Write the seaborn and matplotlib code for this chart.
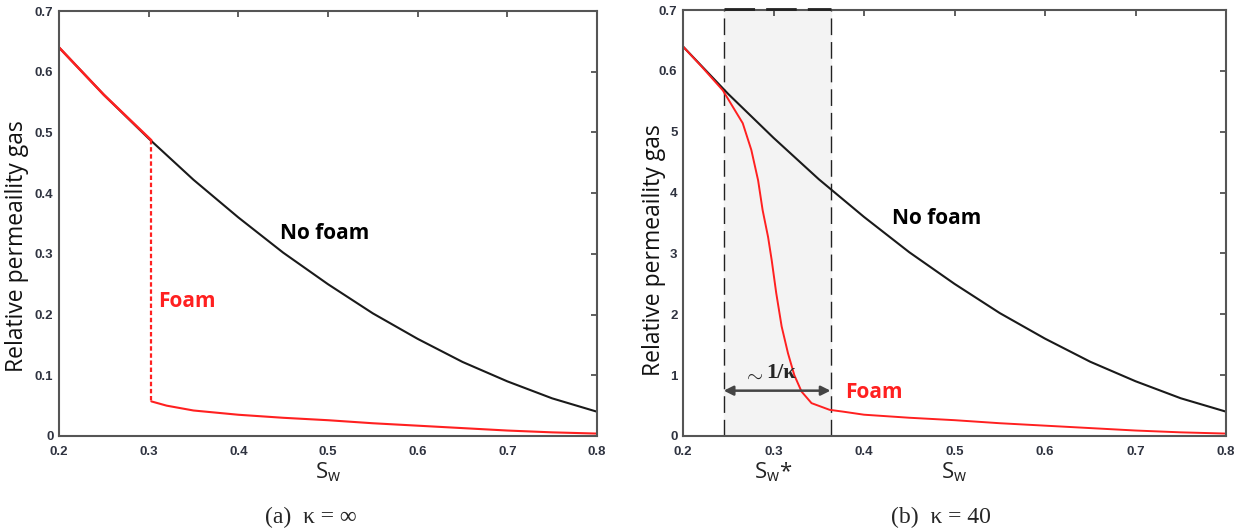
import numpy as np
import matplotlib
matplotlib.use("Agg")
import matplotlib.pyplot as plt
import seaborn as sns

# --- Data ---
# No-foam gas relative permeability (black)
sw_nofoam = [0.20, 0.25, 0.30, 0.35, 0.40, 0.45, 0.50, 0.55, 0.60, 0.65, 0.70, 0.75, 0.80]
krg_nofoam = [0.64, 0.562, 0.49, 0.422, 0.36, 0.302, 0.25, 0.202, 0.16, 0.122, 0.09, 0.062, 0.04]

# (a) kappa = inf : foam curve, upper part follows no-foam, jump at Sw*
sw_foam_a_upper = [0.20, 0.25, 0.303]
krg_foam_a_upper = [0.64, 0.562, 0.487]
sw_jump = [0.303, 0.303]
krg_jump = [0.487, 0.057]
sw_foam_lower = [0.303, 0.32, 0.35, 0.40, 0.45, 0.50, 0.55, 0.60, 0.65, 0.70, 0.75, 0.80]
krg_foam_lower = [0.057, 0.05, 0.042, 0.035, 0.030, 0.026, 0.021, 0.017, 0.013, 0.009, 0.006, 0.004]

# (b) kappa = 40 : smooth transition
sw_foam_b = [0.20, 0.22, 0.244, 0.255, 0.266, 0.2755, 0.283, 0.288, 0.294, 0.298, 0.303,
             0.309, 0.316, 0.323, 0.331, 0.342, 0.362, 0.377, 0.40, 0.45, 0.50, 0.55,
             0.60, 0.65, 0.70, 0.75, 0.80]
krg_foam_b = [0.64, 0.608, 0.568, 0.541, 0.514, 0.47, 0.42, 0.371, 0.327, 0.289, 0.235,
              0.18, 0.136, 0.10, 0.073, 0.054, 0.043, 0.040, 0.035, 0.030, 0.026, 0.021,
              0.017, 0.013, 0.009, 0.006, 0.004]

sw_star_lo, sw_star_hi = 0.245, 0.363

x_ticks = [0.2, 0.3, 0.4, 0.5, 0.6, 0.7, 0.8]
x_ticklabels = ["0.2", "0.3", "0.4", "0.5", "0.6", "0.7", "0.8"]
y_ticks = [0, 0.1, 0.2, 0.3, 0.4, 0.5, 0.6, 0.7]
y_ticklabels_a = ["0", "0.1", "0.2", "0.3", "0.4", "0.5", "0.6", "0.7"]
y_ticklabels_b = ["0", "1", "2", "3", "4", "5", "0.6", "0.7"]

sns.set_theme(style="white")
plt.rcParams["font.family"] = ["Open Sans", "DejaVu Sans"]
plt.rcParams["mathtext.fontset"] = "custom"
plt.rcParams["mathtext.rm"] = "Open Sans"

fig = plt.figure(figsize=(12.45, 5.31), dpi=100)
W, H = 1245, 531
ax_a = fig.add_axes([59 / W, 1 - 436 / H, (597 - 59) / W, (436 - 11) / H])
ax_b = fig.add_axes([683 / W, 1 - 436 / H, (1226 - 683) / W, (436 - 10) / H])

red = "#ff2020"
tick_col = "#2f3340"
serif = ["Liberation Serif", "DejaVu Serif"]


def style_axes(ax, ylabels, ylab_pos):
    ax.set_xlim(0.2, 0.8)
    ax.set_ylim(0, 0.7)
    ax.set_xticks(x_ticks)
    ax.set_xticklabels(x_ticklabels)
    ax.set_yticks(y_ticks)
    ax.set_yticklabels(ylabels)
    ax.tick_params(direction="in", length=4, width=1.2, top=True, right=True,
                   labelsize=9.5, labelcolor=tick_col, color="#444444")
    ax.tick_params(axis="x", pad=7)
    ax.tick_params(axis="y", pad=4)
    for lab in ax.get_xticklabels() + ax.get_yticklabels():
        lab.set_fontweight("bold")
        lab.set_family(["Liberation Sans", "DejaVu Sans"])
    for sp in ax.spines.values():
        sp.set_color("#555555")
        sp.set_linewidth(1.5)
    ax.set_ylabel("Relative permeaility gas", fontsize=16.5, color="#111111")
    ax.yaxis.set_label_coords(*ylab_pos)
    ax.set_xlabel(r"S$_{\mathrm{w}}$", fontsize=16, color="#222222")
    ax.xaxis.set_label_coords(0.5, -0.0565)


# --- (a) kappa = inf ---
sns.lineplot(x=sw_nofoam, y=krg_nofoam, ax=ax_a, color="#1a1a1a", lw=1.5, sort=False)
sns.lineplot(x=sw_foam_a_upper, y=krg_foam_a_upper, ax=ax_a, color=red, lw=1.8, sort=False)
ax_a.plot(sw_jump, krg_jump, color=red, lw=1.6, ls=(0, (2, 1.2)))
sns.lineplot(x=sw_foam_lower, y=krg_foam_lower, ax=ax_a, color=red, lw=1.5, sort=False)
style_axes(ax_a, y_ticklabels_a, ((29 - 59) / 538, (436 - 246) / 425))
ax_a.text(0.447, 0.333, "No foam", fontsize=15, fontweight="bold", color="black",
          ha="left", va="center")
ax_a.text(0.311, 0.222, "Foam", fontsize=15, fontweight="bold", color=red,
          ha="left", va="center")

# --- (b) kappa = 40 ---
ax_b.axvspan(sw_star_lo, sw_star_hi, color="#f3f3f3", zorder=0)
for xv in (sw_star_lo, sw_star_hi):
    ax_b.axvline(xv, color="#222222", lw=1.0, ls=(0, (12, 5)), zorder=1)
ax_b.plot([sw_star_lo, sw_star_hi], [0.701, 0.701], color="#222222", lw=2.0,
          ls=(0, (11, 4)), clip_on=False, zorder=3)
sns.lineplot(x=sw_nofoam, y=krg_nofoam, ax=ax_b, color="#1a1a1a", lw=1.5, sort=False)
sns.lineplot(x=sw_foam_b, y=krg_foam_b, ax=ax_b, color=red, lw=1.4, sort=False)
style_axes(ax_b, y_ticklabels_b, ((666 - 683) / 543, (436 - 250) / 426))
ax_b.annotate("", xy=(sw_star_lo, 0.0745), xytext=(sw_star_hi, 0.0745),
              arrowprops=dict(arrowstyle="<|-|>", color="#444444", lw=1.8,
                              mutation_scale=14, shrinkA=0, shrinkB=0))
ax_b.text(0.289, 0.100, r"$\sim$", fontsize=15, ha="right", va="center")
ax_b.text(0.2915, 0.104, "1/κ", fontsize=16, fontweight="bold", family=serif,
          ha="left", va="center")
ax_b.text(0.4105, 0.072, "Foam", fontsize=15, fontweight="bold", color=red,
          ha="center", va="center")
ax_b.text(0.431, 0.357, "No foam", fontsize=15, fontweight="bold", color="black",
          ha="left", va="center")
ax_b.text(0.30, -0.0394, r"S$_{\mathrm{w}}$*", fontsize=16, color="#222222",
          ha="center", va="top")

# captions
fig.text(311 / W, 1 - 517 / H, "(a)  κ = ∞", fontsize=17, family=serif,
         ha="center", va="center")
fig.text(941 / W, 1 - 517 / H, "(b)  κ = 40", fontsize=17, family=serif,
         ha="center", va="center")

fig.savefig("out.png", dpi=100)
